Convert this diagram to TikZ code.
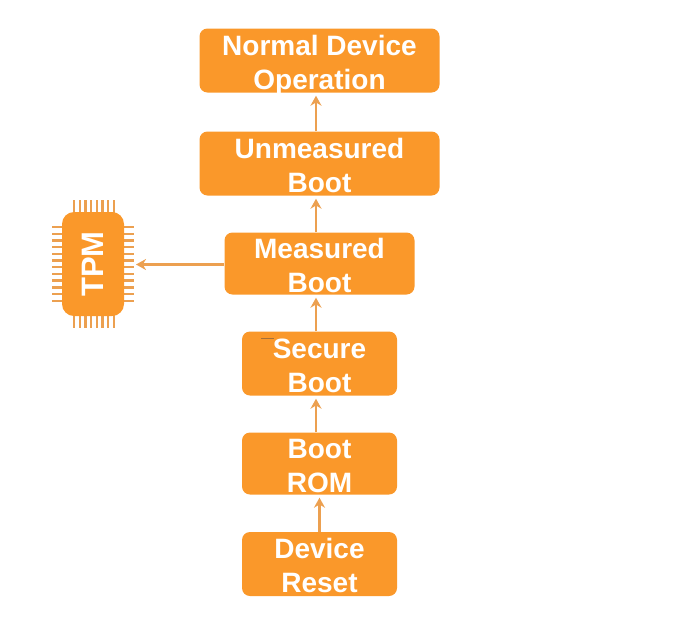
\documentclass[tikz,border=0pt]{standalone}
\usepackage{fontspec}
\setmainfont{Liberation Sans}
\usetikzlibrary{positioning,arrows.meta}
\definecolor{bootorange}{RGB}{250,152,42}
\definecolor{bootarrow}{RGB}{236,160,80}
\tikzset{
  bootbg/.style={fill=bootorange,rounded corners=8pt},
  bootbox/.style={align=center,text=white,font=\fontsize{28}{34}\selectfont\bfseries,inner sep=0pt,text height=65pt,text depth=8pt},
  chipbox/.style={fill=bootorange,rounded corners=12pt,text=white,font=\fontsize{31}{34}\selectfont\bfseries,inner sep=0pt},
  bootline/.style={draw=bootarrow,line width=2.6pt,-{Stealth[length=10pt,width=11pt]},shorten >=3pt},
  pinline/.style={draw=bootarrow,line width=2.4pt},
}
\begin{document}
\begin{tikzpicture}[x=1pt,y=-1pt]
  \useasboundingbox (0,0) rectangle (674,630);
  \node[bootbg,minimum width=240,minimum height=64] (normalbg) at (319.5,60.5) {};
  \node[bootbg,minimum width=240,minimum height=64] (unmeasuredbg) at (319.5,163.5) {};
  \node[bootbg,minimum width=190,minimum height=62] (measuredbg) at (319.5,263.5) {};
  \node[bootbg,minimum width=155,minimum height=64] (securebg) at (319.5,363.5) {};
  \node[bootbg,minimum width=155,minimum height=62] (rombg) at (319.5,463.5) {};
  \node[bootbg,minimum width=155,minimum height=64] (resetbg) at (319.5,564) {};
  \node[bootbox] (normal) at (normalbg) {Normal Device\\Operation};
  \node[bootbox] (unmeasured) at (unmeasuredbg) {Unmeasured\\Boot};
  \node[bootbox] (measured) at (measuredbg) {Measured\\Boot};
  \node[bootbox] (secure) at (securebg) {Secure\\Boot};
  \node[bootbox] (rom) at (rombg) {Boot\\ROM};
  \node[bootbox] (reset) at (resetbg) {Device\\Reset};
  % chip
  \foreach \p in {0,...,7} {
    \draw[pinline] (74+\p*5.7,200) -- (74+\p*5.7,328);
  }
  \foreach \p in {0,...,11} {
    \draw[pinline] (52,227+\p*6.7) -- (134,227+\p*6.7);
  }
  \node[chipbox,minimum width=62,minimum height=104] (tpm) at (93,264) {\rotatebox{90}{TPM}};
  \draw[bootline] (resetbg.north) -- (rombg.south);
  \draw[bootline] ([xshift=-3.5]rombg.north) -- ([xshift=-3.5]securebg.south);
  \draw[bootline] ([xshift=-3.5]securebg.north) -- ([xshift=-3.5]measuredbg.south);
  \draw[bootline] ([xshift=-3.5]measuredbg.north) -- ([xshift=-3.5]unmeasuredbg.south);
  \draw[bootline] ([xshift=-3.5]unmeasuredbg.north) -- ([xshift=-3.5]normalbg.south);
  \coordinate (tpmin) at (133,264.5);
  \draw[bootline] (measuredbg.west |- tpmin) -- (tpmin);
  \draw[draw=bootarrow!70!black,line width=1pt] (261,338.5) -- (274,338.5);
\end{tikzpicture}
\end{document}
